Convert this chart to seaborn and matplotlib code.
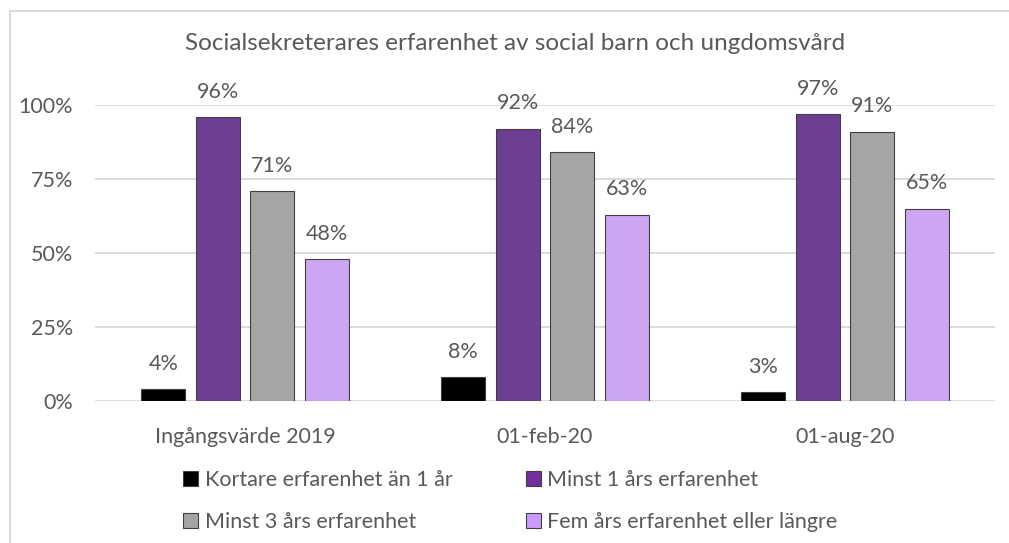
import matplotlib
matplotlib.use("Agg")
import matplotlib.pyplot as plt
import seaborn as sns
import pandas as pd
from matplotlib.patches import Rectangle, Patch

categories = ["Ingångsvärde 2019", "01-feb-20", "01-aug-20"]
series = ["Kortare erfarenhet än 1 år", "Minst 1 års erfarenhet",
          "Minst 3 års erfarenhet", "Fem års erfarenhet eller längre"]
kortare = [4, 8, 3]
minst1 = [96, 92, 97]
minst3 = [71, 84, 91]
fem = [48, 63, 65]
colors = ["#000000", "#7030A0", "#A5A5A5", "#CC99FF"]
yticks = [0, 25, 50, 75, 100]
ytick_labels = ["0%", "25%", "50%", "75%", "100%"]
title = "Socialsekreterares erfarenhet av social barn och ungdomsvård"

rows = []
for s, vals in zip(series, [kortare, minst1, minst3, fem]):
    for c, v in zip(categories, vals):
        rows.append({"cat": c, "series": s, "value": v})
df = pd.DataFrame(rows)

sns.set_theme(style="white")
plt.rcParams["font.family"] = ["Lato", "DejaVu Sans"]
txt = "#595959"
fs = 15.5

fig = plt.figure(figsize=(10.09, 5.43), dpi=100)
ax = fig.add_axes([95/1009, 1-401/543, 900/1009, (401-105)/543])
ax.set_ylim(0, 100)

sns.barplot(data=df, x="cat", y="value", hue="series", order=categories,
            hue_order=series, palette=colors, width=0.727, gap=0.19,
            edgecolor="#404040", linewidth=0.8, ax=ax, legend=False, zorder=3)

for container in ax.containers:
    labels = [f"{int(v)}%" for v in container.datavalues]
    ax.bar_label(container, labels=labels, padding=11, fontsize=fs, color=txt)

ax.set_xlim(-0.5, 2.5)
ax.set_yticks(yticks)
ax.set_yticklabels(ytick_labels)
ax.yaxis.grid(True, color="#D9D9D9", linewidth=1.3, zorder=0)
ax.set_axisbelow(True)
for sp in ax.spines.values():
    sp.set_visible(False)
ax.tick_params(axis="both", length=0, labelsize=fs, colors=txt)
ax.tick_params(axis="x", pad=19)
ax.tick_params(axis="y", pad=16)
ax.set_xlabel("")
ax.set_ylabel("")

fig.text(515/1009, 1-44/543, title, ha="center", va="center",
         fontsize=17.5, color=txt)

handles = [Patch(facecolor=c, edgecolor="#404040", linewidth=0.8) for c in colors]
order = [0, 2, 1, 3]
leg = fig.legend([handles[i] for i in order], [series[i] for i in order],
                 loc="center left",
                 bbox_to_anchor=(164/1009, 1-501/543), ncol=2, frameon=False,
                 fontsize=fs, labelcolor=txt, handlelength=0.7, handleheight=0.7,
                 handletextpad=0.3, columnspacing=3.4, labelspacing=1.0)

fig.patches.append(Rectangle((10/1009, -0.1), 1.2, 1-11/543 + 0.1,
                             transform=fig.transFigure, fill=False,
                             edgecolor="#D9D9D9", linewidth=1.5))

fig.savefig("out.png", dpi=100)
